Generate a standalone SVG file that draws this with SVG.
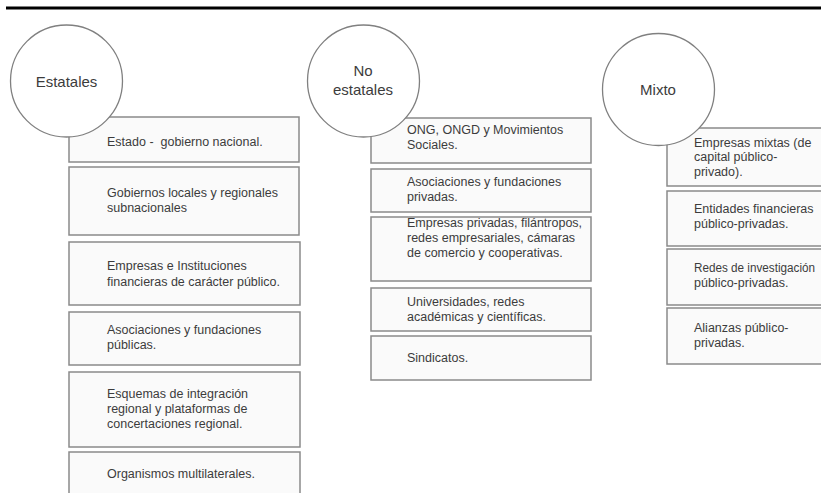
<svg xmlns="http://www.w3.org/2000/svg" width="821" height="493" viewBox="0 0 821 493">
<style>
.box{fill:#fafafa;stroke:#8a8a8a;stroke-width:1.5}
.circ{fill:#ffffff;stroke:#808080;stroke-width:1.3}
.t{font-family:"Liberation Sans",Arial,sans-serif;font-size:12.5px;fill:#3c3c3c;white-space:pre}
.h{font-family:"Liberation Sans",Arial,sans-serif;font-size:15px;fill:#3c3c3c;text-anchor:middle}
</style>
<rect x="0" y="0" width="821" height="493" fill="#ffffff"/>
<line x1="6" y1="8" x2="821" y2="8" stroke="#000" stroke-width="3"/>
<g id="connectors"></g>
<!-- Column 1 -->
<g id="e1"><rect class="box" x="69" y="117" width="230" height="45"/><text class="t" x="107" y="146" xml:space="preserve">Estado -  gobierno nacional.</text></g>
<g id="e2"><rect class="box" x="69" y="167" width="230" height="68"/><text class="t" x="107" y="197">Gobiernos locales y regionales</text><text class="t" x="107" y="212">subnacionales</text></g>
<g id="e3"><rect class="box" x="69" y="242" width="231" height="63"/><text class="t" x="107" y="270">Empresas e Instituciones</text><text class="t" x="107" y="285.5">financieras de carácter público.</text></g>
<g id="e4"><rect class="box" x="69" y="312" width="231" height="53"/><text class="t" x="107" y="334">Asociaciones y fundaciones</text><text class="t" x="107" y="349">públicas.</text></g>
<g id="e5"><rect class="box" x="69" y="372" width="231" height="75"/><text class="t" x="107" y="397.5">Esquemas de integración</text><text class="t" x="107" y="412.5">regional y plataformas de</text><text class="t" x="107" y="427.5">concertaciones regional.</text></g>
<g id="e6"><rect class="box" x="69" y="452" width="231" height="60"/><text class="t" x="107" y="478">Organismos multilaterales.</text></g>
<g id="estatales"><circle class="circ" cx="66.5" cy="81" r="56"/><text class="h" x="66.5" y="86.5">Estatales</text></g>
<!-- Column 2 -->
<g id="n1"><rect class="box" x="371" y="118" width="220" height="45"/><text class="t" x="407" y="134">ONG, ONGD y Movimientos</text><text class="t" x="407" y="149">Sociales.</text></g>
<g id="n2"><rect class="box" x="371" y="169" width="220" height="43"/><text class="t" x="407" y="185.5">Asociaciones y fundaciones</text><text class="t" x="407" y="200.5">privadas.</text></g>
<g id="n3"><rect class="box" x="371" y="217" width="220" height="64"/><text class="t" x="407" y="226.5">Empresas privadas, filántropos,</text><text class="t" x="407" y="241.5">redes empresariales, cámaras</text><text class="t" x="407" y="256.5">de comercio y cooperativas.</text></g>
<g id="n4"><rect class="box" x="371" y="288" width="220" height="43"/><text class="t" x="407" y="306">Universidades, redes</text><text class="t" x="407" y="321">académicas y científicas.</text></g>
<g id="n5"><rect class="box" x="371" y="336" width="220" height="44"/><text class="t" x="407" y="361.5">Sindicatos.</text></g>
<g id="noestatales"><circle class="circ" cx="363.5" cy="81" r="56"/><text class="h" x="363" y="76">No</text><text class="h" x="363" y="95">estatales</text></g>
<!-- Column 3 -->
<g id="m1"><rect class="box" x="667" y="128" width="170" height="58"/><text class="t" x="694" y="146.5">Empresas mixtas (de</text><text class="t" x="694" y="161">capital público-</text><text class="t" x="694" y="175.5">privado).</text></g>
<g id="m2"><rect class="box" x="667" y="191" width="170" height="55"/><text class="t" x="694" y="213">Entidades financieras</text><text class="t" x="694" y="228">público-privadas.</text></g>
<g id="m3"><rect class="box" x="667" y="249" width="170" height="56"/><text class="t" x="694" y="271.5" textLength="121" lengthAdjust="spacingAndGlyphs">Redes de investigación</text><text class="t" x="694" y="286.5">público-privadas.</text></g>
<g id="m4"><rect class="box" x="667" y="308" width="170" height="56"/><text class="t" x="694" y="332">Alianzas público-</text><text class="t" x="694" y="347">privadas.</text></g>
<g id="mixto"><circle class="circ" cx="658.5" cy="89.5" r="56"/><text class="h" x="658" y="95">Mixto</text></g>
</svg>
